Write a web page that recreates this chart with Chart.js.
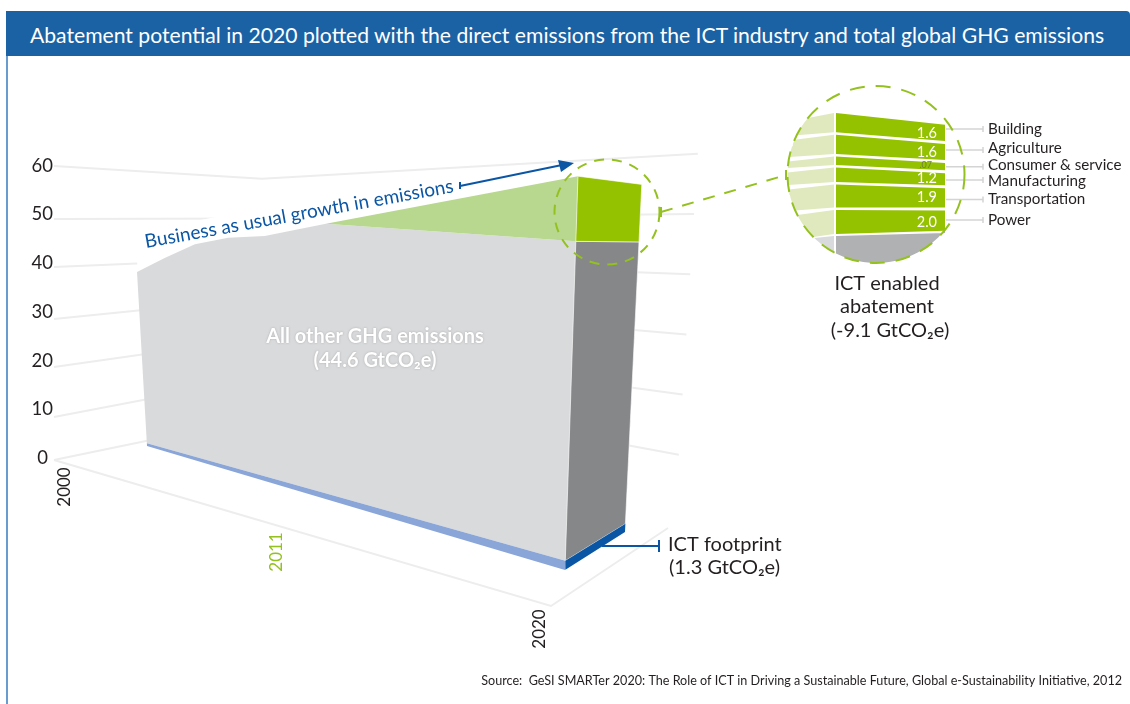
<!DOCTYPE html>
<html lang="en">
<head>
    <meta charset="UTF-8">
    <title>Abatement potential in 2020</title>
    <script src="https://cdn.jsdelivr.net/npm/chart.js"></script>
    <style>
        body { margin: 0; background: #fff; }
        #page { position: relative; width: 1130px; height: 704px; overflow: hidden; }
        #chart { position: absolute; left: 0; top: 0; }
        #band {
            position: absolute; left: 6px; top: 11px; width: 1124px; height: 45px;
            background: #1b62a5; border-top-right-radius: 4px;
            color: #fff; font: 21.15px Lato, sans-serif; line-height: 48px;
            white-space: nowrap; text-indent: 24px;
        }
        #frame { position: absolute; left: 6px; top: 56px; width: 2px; height: 648px; background: #6a9bcf; }
    </style>
</head>
<body>
    <div id="page">
        <canvas id="chart" width="1130" height="704"></canvas>
        <div id="band">Abatement potential in 2020 plotted with the direct emissions from the ICT industry and total global GHG emissions</div>
        <div id="frame"></div>
    </div>

    <script>
        // values (GtCO2e)
        const yTicks = [0, 10, 20, 30, 40, 50, 60];
        const yearLabels = ['2000', '2011', '2020'];

        const historyYears = [2000, 2002, 2004, 2006, 2008, 2011];
        const historyValues = [39, 42.3, 45.3, 46.6, 46.9, 49];
        const usualValue2020 = 55;
        const abatedValue2020 = 45.9;

        const footprintYears = [2000, 2011, 2020];
        const footprintValues = [0.6, 1.0, 1.3];

        const sectors = ['Power', 'Transportation', 'Manufacturing', 'Consumer & service', 'Agriculture', 'Building'];
        const sectorValues = [2.0, 1.9, 1.2, 0.7, 1.6, 1.6];
        const sectorLabels = ['2.0', '1.9', '1.2', '.07', '1.6', '1.6'];

        // the 3D box, calibrated against the picture
        const leftWallY = [460, 417, 367, 319, 267, 219, 166];
        const perspective = 1.6;

        function yearPos(year) {
            const u = (year - 2000) / 20;
            return u / (u + (1 - u) * perspective);
        }

        // a point on the front face of the box
        function front(year, value) {
            const t = yearPos(year);
            return {
                x: 147 + 418 * t + value * (-0.256 + 0.492 * t),
                y: 446 + 124 * t - value * (4.46 + 2.7 * t)
            };
        }

        // a point on the far edge of the side face, 2020 only
        function back(value) {
            return { x: 625 + value * 0.305, y: 532 - value * 6.32 };
        }

        function wallPoints(tick, i) {
            const left = { x: 54, y: leftWallY[i] };
            const corner = { x: 262, y: 417 - 3.97 * tick };
            const right = { x: 675 + 0.38 * tick, y: 515 - 6.02 * tick };
            return tick === 0 ? [left, corner] : [left, corner, right];
        }

        // the magnified stack inside the big circle
        const lens = { x: 876, y: 174.5, r: 88.5, split: 834, left: 836, right: 945 };

        function stackY(edge, level, gaps) {
            return edge === 'left' ? 234 - 12 * level - 2.6 * gaps : 230.7 - 10.1 * level - 3 * gaps;
        }

        function lensArcX(y) {
            return lens.x - Math.sqrt(Math.max(0, lens.r * lens.r - (y - lens.y) * (y - lens.y)));
        }

        function lightBand(yTop, yBottom, yTopLeft, yBottomLeft) {
            const pts = [{ x: lens.split, y: yTop }, { x: lens.split, y: yBottom }];
            for (let k = 0; k <= 8; k++) {
                const y = yBottomLeft + (yTopLeft - yBottomLeft) * k / 8;
                pts.push({ x: lensArcX(y), y: y });
            }
            return pts;
        }

        const layers = [];
        function addShape(points, color, border) {
            layers.push({
                type: 'scatter',
                data: points.concat([points[0]]),
                showLine: true,
                fill: 'shape',
                backgroundColor: color,
                borderColor: border || 'transparent',
                borderWidth: border ? 1 : 0,
                pointRadius: 0,
                tension: 0
            });
        }
        function addLine(points, color, width) {
            layers.push({
                type: 'scatter',
                data: points,
                showLine: true,
                fill: false,
                borderColor: color,
                borderWidth: width,
                pointRadius: 0,
                tension: 0
            });
        }

        // walls and floor
        yTicks.forEach((tick, i) => addLine(wallPoints(tick, i), '#ededed', 2));
        addLine([{ x: 54, y: 460 }, { x: 551, y: 606 }, { x: 668, y: 528 }], '#ededed', 2);

        // white band behind the running text
        addShape([{ x: 138, y: 232 }, { x: 470, y: 168 }, { x: 470, y: 200 }, front(2011, 49), front(2008, 46.9), front(2004, 45.3), front(2000, 39)], '#fff');

        // front face
        const footTop = footprintYears.map((y, i) => front(y, footprintValues[i]));
        const footBottom = footprintYears.map(y => front(y, 0));
        const topEdge = historyYears.map((y, i) => front(y, historyValues[i]));
        addShape(topEdge.concat([front(2020, abatedValue2020)], footTop.slice().reverse()), '#d9dadc');
        addShape(footTop.concat(footBottom.slice().reverse()), '#8aa5d8');
        addShape([front(2011, 49), front(2020, usualValue2020), front(2020, abatedValue2020)], '#b8d78f');

        // side face at 2020
        addShape([front(2020, 1.3), front(2020, abatedValue2020), back(abatedValue2020), back(1.3)], '#868789', 'rgba(255,255,255,0.6)');
        addShape([front(2020, 0), front(2020, 1.3), back(1.3), back(0)], '#0a56a5');
        addShape([front(2020, abatedValue2020), front(2020, usualValue2020), back(usualValue2020), back(abatedValue2020)], '#94c100', 'rgba(255,255,255,0.6)');

        // magnified stack
        let level = 0;
        const bandRows = [];
        sectorValues.forEach((value, i) => {
            const row = {
                leftBottom: stackY('left', level, i),
                rightBottom: stackY('right', level, i),
                leftTop: stackY('left', level + value, i),
                rightTop: stackY('right', level + value, i)
            };
            bandRows.push(row);
            addShape([
                { x: lens.left, y: row.leftBottom }, { x: lens.left, y: row.leftTop },
                { x: lens.right, y: row.rightTop }, { x: lens.right, y: row.rightBottom }
            ], '#94c100');
            addShape(lightBand(row.leftTop, row.leftBottom, row.leftTop + 5, row.leftBottom + 3), '#dfe9bd');
            level += value;
        });
        addShape(lightBand(236, 253, 238, 253), '#d9dadc');

        const lensFloor = [{ x: lens.left, y: 236 }, { x: lens.right, y: 233 }];
        for (let k = 0; k <= 16; k++) {
            const x = lens.right + (lens.left - lens.right) * k / 16;
            lensFloor.push({ x: x, y: lens.y + Math.sqrt(lens.r * lens.r - (x - lens.x) * (x - lens.x)) });
        }
        addShape(lensFloor, '#b0b1b3');

        // leader lines to the sector names
        const leaderY = [220, 199.5, 180, 166.7, 150, 129];
        leaderY.forEach(y => addLine([{ x: 946, y: y }, { x: 983, y: y }], '#d4d4d4', 1.5));
        leaderY.forEach(y => addLine([{ x: 983, y: y - 3 }, { x: 983, y: y + 3 }], '#d4d4d4', 1.5));

        // first dataset is painted last in Chart.js, so reverse the order
        layers.forEach((layer, i) => { layer.order = layers.length - i; });

        function put(ctx, str, x, y, font, color, align, angle) {
            ctx.save();
            ctx.translate(x, y);
            if (angle) ctx.rotate(angle * Math.PI / 180);
            ctx.font = font;
            ctx.fillStyle = color;
            ctx.textAlign = align || 'left';
            ctx.textBaseline = 'middle';
            ctx.fillText(str, 0, 0);
            ctx.restore();
        }

        function dashedCircle(ctx, x, y, r, dash) {
            ctx.save();
            ctx.strokeStyle = '#94c11f';
            ctx.lineWidth = 2;
            ctx.setLineDash(dash);
            ctx.beginPath();
            ctx.arc(x, y, r, 0, Math.PI * 2);
            ctx.stroke();
            ctx.restore();
        }

        function stroke(ctx, color, width, pts, dash) {
            ctx.save();
            ctx.strokeStyle = color;
            ctx.lineWidth = width;
            if (dash) ctx.setLineDash(dash);
            ctx.beginPath();
            pts.forEach((p, i) => i ? ctx.lineTo(p[0], p[1]) : ctx.moveTo(p[0], p[1]));
            ctx.stroke();
            ctx.restore();
        }

        const overlay = {
            id: 'overlay',
            afterDatasetsDraw(chart) {
                const ctx = chart.ctx;
                const dark = '#231f20';
                const blue = '#0a56a5';
                const green = '#94c11f';
                const font = 'Lato, sans-serif';

                yTicks.forEach(tick => {
                    put(ctx, String(tick), tick === 0 ? 48 : 53, 458 - 4.87 * tick, '18.5px ' + font, dark, 'right');
                });
                put(ctx, yearLabels[0], 65, 487, '17px ' + font, dark, 'center', -90);
                put(ctx, yearLabels[1], 277, 552, '17px ' + font, '#94c11f', 'center', -90);
                put(ctx, yearLabels[2], 540, 629, '17px ' + font, dark, 'center', -90);

                put(ctx, 'Business as usual growth in emissions', 145, 242, '19px ' + font, blue, 'left', -10.3);
                stroke(ctx, blue, 2, [[460, 186], [562, 165]]);
                stroke(ctx, blue, 2, [[460, 182], [460, 189]]);
                ctx.save();
                ctx.fillStyle = blue;
                ctx.beginPath();
                ctx.moveTo(574, 163);
                ctx.lineTo(558, 160);
                ctx.lineTo(561, 172);
                ctx.closePath();
                ctx.fill();
                ctx.restore();

                ctx.save();
                ctx.shadowColor = 'rgba(120,120,120,0.5)';
                ctx.shadowBlur = 2;
                put(ctx, 'All other GHG emissions', 375, 337, 'bold 20px ' + font, '#fff', 'center');
                put(ctx, '(44.6 GtCO₂e)', 375, 361, 'bold 20px ' + font, '#fff', 'center');
                ctx.restore();

                dashedCircle(ctx, 607, 212, 52.5, [10, 8]);
                dashedCircle(ctx, lens.x, lens.y, lens.r, [15, 11]);
                stroke(ctx, green, 2, [[661, 212], [786, 175]], [12, 10]);
                stroke(ctx, green, 2, [[661, 207], [661, 217]]);
                stroke(ctx, green, 2, [[786, 170], [786, 180]]);

                const nameY = [220, 199, 181, 165, 148, 129];
                const valueY = [222, 197, 178, 165, 152, 133];
                sectors.forEach((name, i) => {
                    put(ctx, name, 988, nameY[i], '15.2px ' + font, dark);
                    if (sectorLabels[i] === '.07') {
                        put(ctx, sectorLabels[i], 932, valueY[i], '9px ' + font, '#6f7f3a', 'right');
                    } else {
                        put(ctx, sectorLabels[i], 937, valueY[i], '14.5px ' + font, '#fff', 'right');
                    }
                });

                put(ctx, 'ICT enabled', 887, 284, '20px ' + font, dark, 'center');
                put(ctx, 'abatement', 887, 307, '20px ' + font, dark, 'center');
                put(ctx, '(-9.1 GtCO₂e)', 890, 331, '20px ' + font, dark, 'center');

                stroke(ctx, blue, 2, [[602, 546], [659, 546]]);
                stroke(ctx, blue, 2, [[659, 540], [659, 552]]);
                put(ctx, 'ICT footprint', 668, 545, '20px ' + font, dark);
                put(ctx, '(1.3 GtCO₂e)', 669, 568, '20px ' + font, dark);

                put(ctx, 'Source:  GeSI SMARTer 2020: The Role of ICT in Driving a Sustainable Future, Global e-Sustainability Initiative, 2012', 1122, 681, '12.6px ' + font, dark, 'right');
            }
        };

        new Chart(document.getElementById('chart').getContext('2d'), {
            type: 'scatter',
            data: { datasets: layers },
            plugins: [overlay],
            options: {
                responsive: false,
                animation: false,
                events: [],
                layout: { padding: 0 },
                scales: {
                    x: { type: 'linear', display: false, min: 0, max: 1130 },
                    y: { type: 'linear', display: false, min: 0, max: 704, reverse: true }
                },
                plugins: {
                    legend: { display: false },
                    tooltip: { enabled: false },
                    filler: { drawTime: 'beforeDatasetDraw' }
                }
            }
        });
    </script>
</body>
</html>
